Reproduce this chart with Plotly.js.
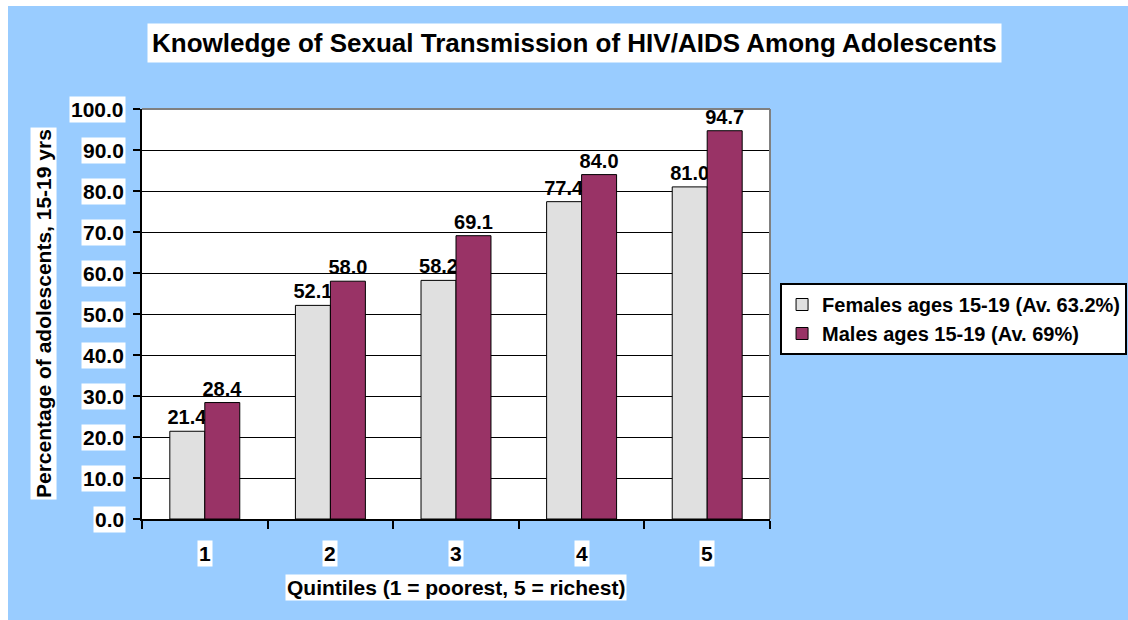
<!DOCTYPE html>
<html>
<head>
<meta charset="utf-8">
<script src="https://cdn.plot.ly/plotly-3.0.1.min.js"></script>
<style>
  html, body { margin: 0; padding: 0; background: #ffffff; }
  #chart { position: absolute; left: 8px; top: 6px; width: 1120px; height: 614px; }
</style>
</head>
<body>
<div id="chart"></div>
<script>
// ---- data ----
const categories = ['1', '2', '3', '4', '5'];
const femaleValues = [21.4, 52.1, 58.2, 77.4, 81.0];
const maleValues = [28.4, 58.0, 69.1, 84.0, 94.7];
const femaleName = 'Females ages 15-19 (Av. 63.2%)';
const maleName = 'Males ages 15-19 (Av. 69%)';
const yTickValues = [0, 10, 20, 30, 40, 50, 60, 70, 80, 90, 100];
const titleText = 'Knowledge of Sexual Transmission of HIV/AIDS Among Adolescents';
const xTitleText = 'Quintiles (1 = poorest, 5 = richest)';
const yTitleText = 'Percentage of adolescents, 15-19 yrs';

// ---- styles ----
const FONT = 'Arial, "Liberation Sans", sans-serif';
const bold = (size) => ({ family: FONT, size: size, color: '#000000', weight: 'bold' });

const traces = [
  {
    type: 'bar', name: femaleName, x: categories, y: femaleValues,
    marker: { color: '#E0E0E0', line: { color: '#000000', width: 1 } },
    texttemplate: '%{y:.1f}', textposition: 'outside', cliponaxis: false,
    textfont: bold(20), constraintext: 'none', hoverinfo: 'x+y'
  },
  {
    type: 'bar', name: maleName, x: categories, y: maleValues,
    marker: { color: '#993366', line: { color: '#000000', width: 1 } },
    texttemplate: '%{y:.1f}', textposition: 'outside', cliponaxis: false,
    textfont: bold(20), constraintext: 'none', hoverinfo: 'x+y'
  }
];

const annotations = [];
// title
annotations.push({
  text: titleText, xref: 'paper', yref: 'paper', x: 0.688, y: 1.161,
  xanchor: 'center', yanchor: 'middle', showarrow: false,
  font: bold(26), bgcolor: '#FFFFFF', borderpad: 4
});
// x axis title
annotations.push({
  text: xTitleText, xref: 'paper', yref: 'paper', x: 0.5, y: -0.166,
  xanchor: 'center', yanchor: 'middle', showarrow: false,
  font: bold(21), bgcolor: '#FFFFFF', borderpad: 1
});
// y axis title
annotations.push({
  text: yTitleText, xref: 'paper', yref: 'paper', x: -0.1576, y: 0.5,
  xanchor: 'center', yanchor: 'middle', showarrow: false, textangle: -90,
  font: bold(21), bgcolor: '#FFFFFF', borderpad: 1
});
// x tick labels (category index positions on the category axis)
categories.forEach((c, i) => annotations.push({
  text: c, xref: 'x', yref: 'paper', x: i, y: -0.083,
  xanchor: 'center', yanchor: 'middle', showarrow: false,
  font: bold(21), bgcolor: '#FFFFFF', borderpad: 1
}));
// y tick labels
yTickValues.forEach(v => annotations.push({
  text: v.toFixed(1), xref: 'paper', yref: 'y', x: 0, y: v, xshift: -16,
  xanchor: 'right', yanchor: 'middle', showarrow: false,
  font: bold(21), bgcolor: '#FFFFFF', borderpad: 1
}));

const layout = {
  width: 1120, height: 614,
  paper_bgcolor: '#99CCFF', plot_bgcolor: '#FFFFFF',
  margin: { l: 134, r: 358, t: 103, b: 101, autoexpand: false },
  barmode: 'group', bargap: 0.443, bargroupgap: 0,
  showlegend: true,
  legend: {
    x: 1.016, y: 0.5756, xanchor: 'left', yanchor: 'top',
    bgcolor: '#FFFFFF', bordercolor: '#000000', borderwidth: 2,
    font: bold(20), traceorder: 'normal'
  },
  xaxis: {
    type: 'category', range: [-0.5, categories.length - 0.5], autorange: false,
    showticklabels: false,
    showline: true, linecolor: '#000000', linewidth: 2,
    ticks: 'outside', ticklen: 8, tickcolor: '#000000', tickwidth: 2,
    tickson: 'boundaries', showgrid: false, zeroline: false, fixedrange: true
  },
  yaxis: {
    range: [0, 100], autorange: false, tickvals: yTickValues, showticklabels: false,
    showline: true, linecolor: '#000000', linewidth: 2,
    ticks: 'outside', ticklen: 7, tickcolor: '#000000', tickwidth: 2,
    showgrid: true, gridcolor: '#000000', gridwidth: 1,
    zeroline: false, fixedrange: true
  },
  shapes: [
    { type: 'line', xref: 'paper', yref: 'paper', x0: 0, x1: 1, y0: 1, y1: 1,
      line: { color: '#808080', width: 2 }, layer: 'above' },
    { type: 'line', xref: 'paper', yref: 'paper', x0: 1, x1: 1, y0: 0, y1: 1,
      line: { color: '#808080', width: 2 }, layer: 'above' }
  ],
  annotations: annotations
};

Plotly.newPlot('chart', traces, layout, { displayModeBar: false, staticPlot: true });
</script>
</body>
</html>
